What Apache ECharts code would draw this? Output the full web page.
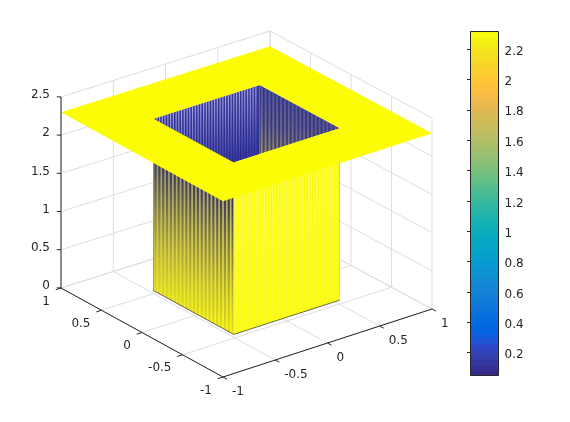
<!DOCTYPE html>
<html>
<head>
<meta charset="utf-8">
<script src="https://cdn.jsdelivr.net/npm/echarts@6/dist/echarts.min.js"></script>
<style>
html, body { margin: 0; padding: 0; background: #fff; }
#chartDiv { width: 570px; height: 422px; }
</style>
</head>
<body>
<div id="chartDiv"></div>
<script>
var myChart = echarts.init(document.getElementById('chartDiv'));

var xTicks = [-1, -0.5, 0, 0.5, 1];
var yTicks = [-1, -0.5, 0, 0.5, 1];
var zTicks = [0, 0.5, 1, 1.5, 2, 2.5];
var colorTicks = [0.2, 0.4, 0.6, 0.8, 1, 1.2, 1.4, 1.6, 1.8, 2, 2.2];

var sheetZ = 2.3;
var floorZ = 0.05;
var colorMin = 0.05;
var colorMax = 2.316;
var sheetEdge = 1;
var holeX = [-0.51, 0.505];
var holeY = [-0.5, 0.49];

// wall sample stations, the walls are stripy because of them
var xStations = [-0.51, -0.484, -0.457, -0.431, -0.405, -0.378, -0.352, -0.326, -0.299, -0.273, -0.247, -0.221, -0.194, -0.168, -0.142, -0.115, -0.089, -0.063, -0.036, -0.01, 0.016, 0.043, 0.069, 0.095, 0.122, 0.148, 0.174, 0.201, 0.227, 0.253, 0.279, 0.306, 0.332, 0.358, 0.385, 0.411, 0.437, 0.464];
var yStations = [-0.5, -0.452, -0.405, -0.357, -0.31, -0.262, -0.214, -0.167, -0.119, -0.071, -0.024, 0.024, 0.071, 0.119, 0.167, 0.214, 0.262, 0.31, 0.357, 0.405, 0.452];

var parula = [
    [0.2081, 0.1663, 0.5292], [0.2116, 0.1898, 0.5777], [0.2123, 0.2138, 0.6270], [0.2081, 0.2386, 0.6771],
    [0.1959, 0.2645, 0.7279], [0.1707, 0.2919, 0.7792], [0.1253, 0.3242, 0.8303], [0.0591, 0.3598, 0.8683],
    [0.0117, 0.3875, 0.8820], [0.0060, 0.4086, 0.8828], [0.0165, 0.4266, 0.8786], [0.0329, 0.4430, 0.8720],
    [0.0498, 0.4586, 0.8641], [0.0629, 0.4737, 0.8554], [0.0723, 0.4887, 0.8467], [0.0779, 0.5040, 0.8384],
    [0.0793, 0.5200, 0.8312], [0.0749, 0.5375, 0.8263], [0.0641, 0.5570, 0.8240], [0.0488, 0.5772, 0.8228],
    [0.0343, 0.5966, 0.8199], [0.0265, 0.6137, 0.8135], [0.0239, 0.6287, 0.8038], [0.0231, 0.6418, 0.7913],
    [0.0228, 0.6535, 0.7768], [0.0267, 0.6642, 0.7607], [0.0384, 0.6743, 0.7436], [0.0590, 0.6838, 0.7254],
    [0.0843, 0.6928, 0.7062], [0.1133, 0.7015, 0.6859], [0.1453, 0.7098, 0.6646], [0.1801, 0.7177, 0.6424],
    [0.2178, 0.7250, 0.6193], [0.2586, 0.7317, 0.5954], [0.3022, 0.7376, 0.5712], [0.3482, 0.7424, 0.5473],
    [0.3953, 0.7459, 0.5244], [0.4420, 0.7481, 0.5033], [0.4871, 0.7491, 0.4840], [0.5300, 0.7491, 0.4661],
    [0.5709, 0.7485, 0.4494], [0.6099, 0.7473, 0.4337], [0.6473, 0.7456, 0.4188], [0.6834, 0.7435, 0.4044],
    [0.7184, 0.7411, 0.3905], [0.7525, 0.7384, 0.3768], [0.7858, 0.7356, 0.3633], [0.8185, 0.7327, 0.3498],
    [0.8507, 0.7299, 0.3360], [0.8824, 0.7274, 0.3217], [0.9139, 0.7258, 0.3063], [0.9450, 0.7261, 0.2886],
    [0.9739, 0.7314, 0.2666], [0.9938, 0.7455, 0.2403], [0.9990, 0.7653, 0.2164], [0.9955, 0.7861, 0.1967],
    [0.9880, 0.8066, 0.1794], [0.9789, 0.8271, 0.1633], [0.9697, 0.8481, 0.1475], [0.9626, 0.8705, 0.1309],
    [0.9589, 0.8949, 0.1132], [0.9598, 0.9218, 0.0948], [0.9661, 0.9514, 0.0755], [0.9763, 0.9831, 0.0538]
];

var axisColor = '#262626';
var gridColor = '#dedee2';
var sheetColor = '#fcfc06';
var fontName = '"DejaVu Sans"';

// view(-37.5, 30), gives a point on the flat plot plane
function project(x, y, z) {
    return [
        223 + 104.5 * (x + 1) - 81 * (y + 1),
        377 - 34 * (x + 1) - 44.5 * (y + 1) + 0.5 * (x + 1) * (y + 1) - 76.4 * z
    ];
}

function grad(stops) {
    return new echarts.graphic.LinearGradient(0, 0, 0, 1, stops.map(function (s) {
        return {offset: s[0], color: s[1]};
    }));
}

function customBase(rows, renderItem) {
    return {
        type: 'custom',
        coordinateSystem: 'cartesian2d',
        xAxisIndex: 0,
        yAxisIndex: 0,
        silent: true,
        clip: false,
        animation: false,
        data: rows,
        renderItem: renderItem
    };
}

function lineSeries(rows, color, width) {
    return customBase(rows, function (params, api) {
        var a = api.coord(project(api.value(0), api.value(1), api.value(2)));
        var b = api.coord(project(api.value(3), api.value(4), api.value(5)));
        return {
            type: 'line',
            shape: {x1: a[0], y1: a[1], x2: b[0], y2: b[1]},
            style: {stroke: color, lineWidth: width}
        };
    });
}

// rows are [x1, y1, x2, y2, zTop, zBottom]
function wallSeries(rows, fill) {
    return customBase(rows, function (params, api) {
        var x1 = api.value(0), y1 = api.value(1), x2 = api.value(2), y2 = api.value(3);
        var top = api.value(4), bottom = api.value(5);
        var points = [
            project(x1, y1, top), project(x2, y2, top),
            project(x2, y2, bottom), project(x1, y1, bottom)
        ].map(function (p) { return api.coord(p); });
        return {
            type: 'polygon',
            shape: {points: points},
            style: {fill: fill}
        };
    });
}

function textSeries(rows, align, dx, dy) {
    return customBase(rows, function (params, api) {
        var p = api.coord(project(api.value(0), api.value(1), api.value(2)));
        return {
            type: 'text',
            x: p[0] + dx,
            y: p[1] + dy,
            style: {
                text: String(api.value(3)),
                fill: axisColor,
                font: '12px ' + fontName,
                align: align,
                verticalAlign: 'middle'
            }
        };
    });
}

// grid lines on floor and the two back walls
var gridRows = [];
xTicks.forEach(function (t) {
    gridRows.push([t, -1, 0, t, 1, 0]);
    gridRows.push([t, 1, 0, t, 1, 2.5]);
});
yTicks.forEach(function (t) {
    gridRows.push([-1, t, 0, 1, t, 0]);
    gridRows.push([1, t, 0, 1, t, 2.5]);
});
zTicks.forEach(function (t) {
    gridRows.push([-1, 1, t, 1, 1, t]);
    gridRows.push([1, 1, t, 1, -1, t]);
});

// the four walls of the shaft, a base face and then stripes
function stripesAlongX(y, fraction) {
    var step = xStations[1] - xStations[0];
    return xStations.map(function (s) {
        return [s, y, s + step * fraction, y, sheetZ, floorZ];
    });
}
function stripesAlongY(x, fraction) {
    var step = yStations[1] - yStations[0];
    return yStations.map(function (s) {
        return [x, s, x, s + step * fraction, sheetZ, floorZ];
    });
}
function baseWall(x1, y1, x2, y2) {
    return [[x1, y1, x2, y2, sheetZ, floorZ]];
}

// sheet with a square hole, one ring joined to the other so there is no seam
var e = sheetEdge;
var sheetRing = [
    [-e, -e], [e, -e], [e, e], [-e, e], [-e, -e],
    [holeX[0], holeY[0]], [holeX[0], holeY[1]], [holeX[1], holeY[1]], [holeX[1], holeY[0]], [holeX[0], holeY[0]]
];
var sheetSeries = customBase([0], function (params, api) {
    var points = sheetRing.map(function (p) {
        return api.coord(project(p[0], p[1], sheetZ));
    });
    return {
        type: 'polygon',
        shape: {points: points},
        style: {fill: sheetColor}
    };
});

var colorRows = parula.map(function (c, i) {
    var band = (colorMax - colorMin) / parula.length;
    return [colorMin + band * i, colorMin + band * (i + 1), i];
});

var series = [
    lineSeries(gridRows, gridColor, 1),

    // far walls, seen through the hole
    wallSeries(baseWall(holeX[0], holeY[1], holeX[1], holeY[1]), grad([[0, '#3a3a9e'], [0.35, '#2c2c90'], [1, '#2c2c90']])),
    wallSeries(stripesAlongX(holeY[1], 0.42), grad([[0, '#a8a8e0'], [0.2, '#7070c0'], [0.4, '#3a3aa4'], [1, '#3a3aa4']])),
    wallSeries(baseWall(holeX[1], holeY[0], holeX[1], holeY[1]), grad([[0, '#343488'], [0.2, '#3c3a78'], [0.42, '#5a5650'], [1, '#8a8440']])),
    wallSeries(stripesAlongY(holeX[1], 0.45), grad([[0, '#5656a0'], [0.2, '#6e6c90'], [0.42, '#a09a50'], [1, '#dcd830']])),

    // near walls, seen from outside
    wallSeries(baseWall(holeX[0], holeY[0], holeX[0], holeY[1]), grad([[0, '#9c9870'], [0.25, '#9c9870'], [0.55, '#d0c850'], [1, '#fcfc10']])),
    wallSeries(stripesAlongY(holeX[0], 0.55), grad([[0, '#3c3a5c'], [0.25, '#3c3a5c'], [0.55, '#8a8440'], [0.8, '#c4bc30'], [1, '#e0dc20']])),
    wallSeries(baseWall(holeX[0], holeY[0], holeX[1], holeY[0]), grad([[0, '#fcfc08'], [1, '#fbfb0c']])),
    wallSeries(stripesAlongX(holeY[0], 0.4), grad([[0, '#fbfb70'], [1, '#fafa30']])),

    // dark rim along the bottom of the near walls
    lineSeries([
        [holeX[0], holeY[1], floorZ, holeX[0], holeY[0], floorZ],
        [holeX[0], holeY[0], floorZ, holeX[1], holeY[0], floorZ]
    ], '#444', 0.8),

    sheetSeries,

    // axes
    lineSeries([[-1, 1, 0, -1, 1, 2.5], [-1, 1, 0, -1, -1, 0], [-1, -1, 0, 1, -1, 0]], axisColor, 1),
    lineSeries(zTicks.map(function (t) { return [-1, 1, t, -1.04, 1, t + 0.02]; }), axisColor, 1),
    lineSeries(yTicks.map(function (t) { return [-1, t, 0, -1.05, t, 0]; }), axisColor, 1),
    lineSeries(xTicks.map(function (t) { return [t, -1, 0, t, -1.05, 0]; }), axisColor, 1),

    textSeries(zTicks.map(function (t) { return [-1, 1, t, t]; }), 'right', -11, -2),
    textSeries(yTicks.map(function (t) { return [-1, t, 0, t]; }), 'right', -11, 13.5),
    textSeries(xTicks.map(function (t) { return [t, -1, 0, t]; }), 'left', 9, 15),

    // colorbar
    {
        type: 'custom',
        coordinateSystem: 'cartesian2d',
        xAxisIndex: 1,
        yAxisIndex: 1,
        silent: true,
        animation: false,
        data: colorRows,
        renderItem: function (params, api) {
            var a = api.coord([0, api.value(1)]);
            var b = api.coord([1, api.value(0)]);
            var c = parula[api.value(2)];
            var color = 'rgb(' + Math.round(c[0] * 255) + ',' + Math.round(c[1] * 255) + ',' + Math.round(c[2] * 255) + ')';
            // higher bands paint last and lap over the one below, no seams
            var lap = params.dataIndex === 0 ? 0 : 1;
            return {
                type: 'rect',
                shape: {x: a[0], y: a[1], width: b[0] - a[0], height: b[1] - a[1] + lap},
                style: {fill: color}
            };
        }
    }
];

var option = {
    backgroundColor: '#fff',
    animation: false,
    grid: [
        {left: 0, top: 0, width: 570, height: 422, show: false},
        {left: 470.5, top: 31.5, width: 28, height: 344, show: true, z: 6, borderColor: axisColor, borderWidth: 1, backgroundColor: 'transparent'}
    ],
    xAxis: [
        {type: 'value', gridIndex: 0, min: 0, max: 570, show: false},
        {type: 'value', gridIndex: 1, min: 0, max: 1, show: false}
    ],
    yAxis: [
        {type: 'value', gridIndex: 0, min: 0, max: 422, inverse: true, show: false},
        {
            type: 'value',
            gridIndex: 1,
            position: 'right',
            min: colorMin,
            max: colorMax,
            z: 6,
            axisLine: {show: false},
            splitLine: {show: false},
            axisTick: {show: true, inside: true, length: 3.5, customValues: colorTicks, lineStyle: {color: axisColor}},
            axisLabel: {margin: 6, verticalAlign: 'top', lineHeight: 5, customValues: colorTicks, color: axisColor, fontFamily: 'DejaVu Sans', fontSize: 12}
        }
    ],
    series: series
};
myChart.setOption(option);
</script>
</body>
</html>
